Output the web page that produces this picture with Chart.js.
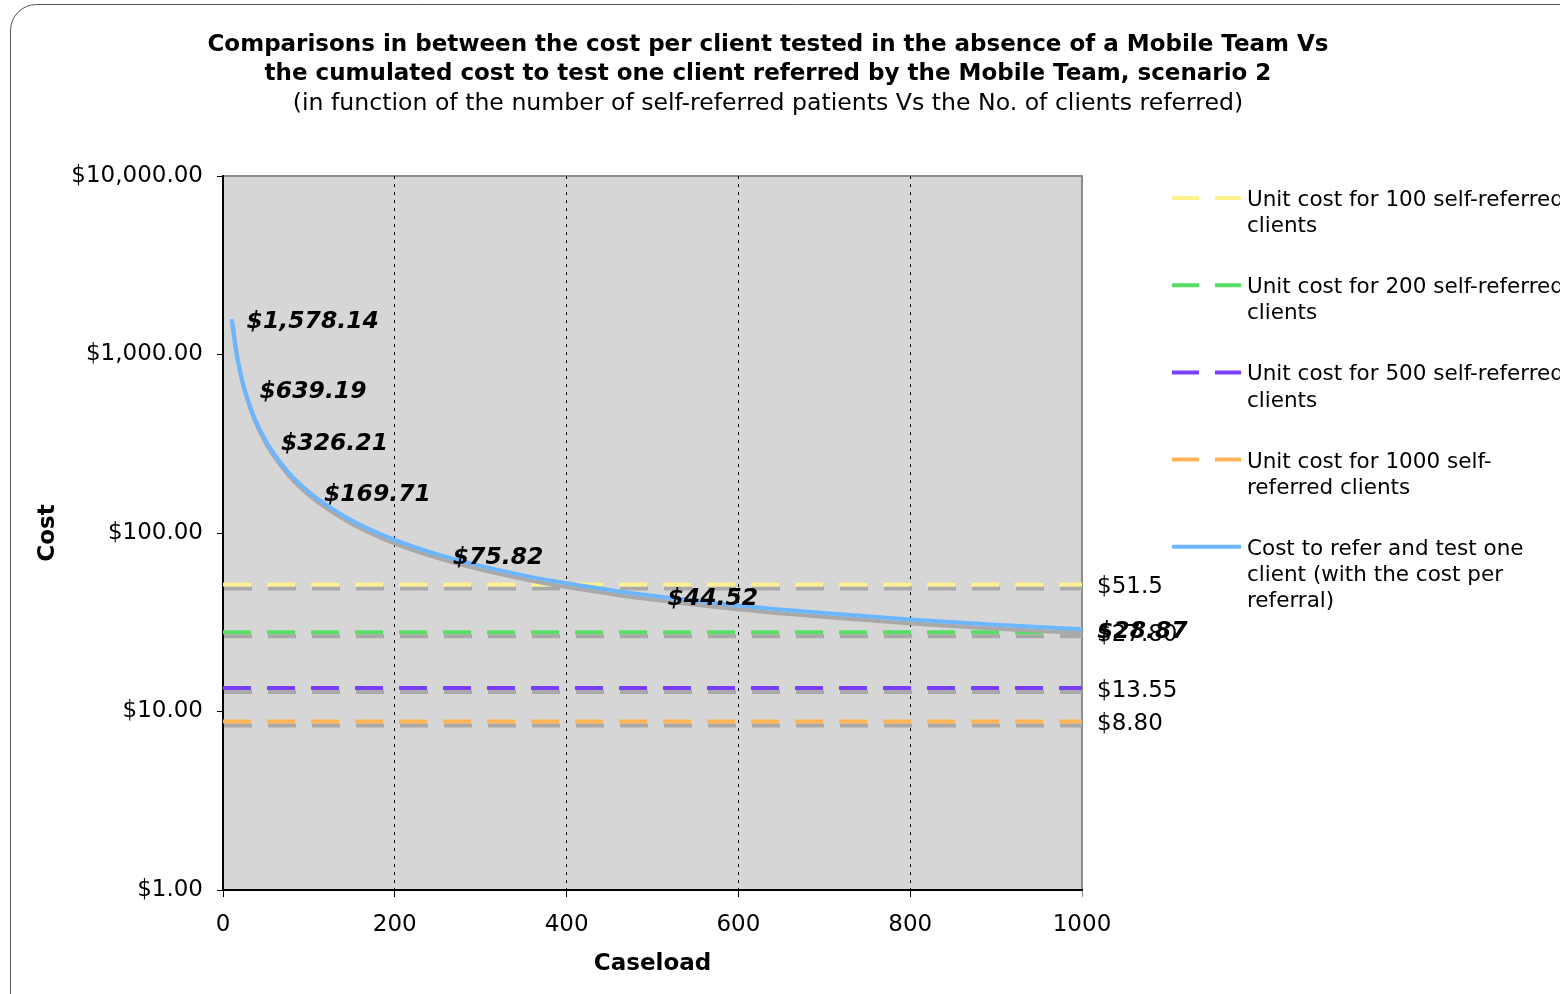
<!DOCTYPE html>
<html>
<head>
<meta charset="utf-8">
<script src="https://cdn.jsdelivr.net/npm/chart.js@4.4.1/dist/chart.umd.min.js"></script>
<style>
  html, body { margin: 0; padding: 0; background: #fff; overflow: hidden; }
  #wrap { width: 1560px; height: 994px; }
</style>
</head>
<body>
<div id="wrap"><canvas id="myChart" width="1560" height="994"></canvas></div>
<script>
// data
const caseload = [10, 15, 20, 25, 35, 50, 75, 100, 150, 200, 250, 300, 350, 400, 450, 500, 600, 700, 800, 900, 1000];
const referCost = [1578.14, 1056, 795, 639.19, 460, 326.21, 222, 169.71, 117.5, 91.5, 75.82, 65.4, 57.9, 52.3, 48.0, 44.52, 39.3, 35.6, 32.8, 30.6, 28.87];
const labelledCaseloads = [10, 25, 50, 100, 250, 500, 1000];

const selfReferred = [100, 200, 500, 1000];
const unitCosts = [51.5, 27.80, 13.55, 8.80];
const unitCostLabels = ['$51.5', '$27.80', '$13.55', '$8.80'];
const lineRange = [0, 1000];

const xTicks = [0, 200, 400, 600, 800, 1000];
const yTicks = [1, 10, 100, 1000, 10000];

const seriesNames = [
  'Unit cost for 100 self-referred\nclients',
  'Unit cost for 200 self-referred\nclients',
  'Unit cost for 500 self-referred\nclients',
  'Unit cost for 1000 self-\nreferred clients',
  'Cost to refer and test one\nclient (with the cost per\nreferral)'
];
const titleLines = [
  'Comparisons in between the cost per client tested in the absence of a Mobile Team Vs',
  'the cumulated cost to test one client referred by the Mobile Team, scenario 2'
];
const subTitle = '(in function of the number of self-referred patients Vs the No. of clients referred)';

const lineColors = ['#fff28f', '#55dd66', '#7b3fff', '#ffb357'];
const curveColor = '#6cb6ff';
const FONT = 'Verdana, "DejaVu Sans", sans-serif';
const FS = 23;

function money(v) {
  return '$' + v.toLocaleString('en-US', {minimumFractionDigits: 2, maximumFractionDigits: 2});
}

const datasets = [];
unitCosts.forEach(function (c, i) {
  datasets.push({
    label: seriesNames[i],
    data: lineRange.map(x => ({x: x, y: c})),
    borderColor: lineColors[i],
    borderWidth: 4,
    borderDash: [28, 16],
    pointRadius: 0,
    order: 1,
    endLabel: unitCostLabels[i]
  });
});
datasets.push({
  label: seriesNames[4],
  data: caseload.map((x, i) => ({x: x, y: referCost[i]})),
  borderColor: curveColor,
  borderWidth: 4,
  pointRadius: 0,
  cubicInterpolationMode: 'monotone',
  order: 0,
  curve: true
});

// background, border, shadows, labels, legend, title
const decor = {
  id: 'decor',
  beforeDraw(chart) {
    const ctx = chart.ctx, a = chart.chartArea;
    ctx.save();
    ctx.fillStyle = '#fff';
    ctx.fillRect(0, 0, chart.width, chart.height);
    ctx.strokeStyle = '#555';
    ctx.lineWidth = 1;
    ctx.beginPath();
    ctx.roundRect(10.5, 4.5, 1700, 1200, 26);
    ctx.stroke();
    ctx.fillStyle = '#d6d6d6';
    ctx.fillRect(a.left, a.top, a.right - a.left, a.bottom - a.top);
    ctx.fillStyle = '#8c8c8c';
    ctx.fillRect(a.left, a.top - 1, a.right - a.left + 1, 2);
    ctx.fillRect(a.right - 1, a.top, 2, a.bottom - a.top);
    ctx.restore();
  },
  beforeDatasetDraw(chart) {
    const ctx = chart.ctx;
    ctx.save();
    ctx.shadowColor = '#a9a9a9';
    ctx.shadowOffsetX = 1;
    ctx.shadowOffsetY = 4;
    ctx.shadowBlur = 0;
  },
  afterDatasetDraw(chart) {
    chart.ctx.restore();
  },
  afterDatasetsDraw(chart) {
    const ctx = chart.ctx;
    ctx.save();
    ctx.textBaseline = 'middle';
    ctx.textAlign = 'left';
    ctx.fillStyle = '#000';
    chart.data.datasets.forEach(function (ds, di) {
      const meta = chart.getDatasetMeta(di);
      if (ds.curve) {
        ctx.font = 'italic bold 23.5px ' + FONT;
        ds.data.forEach(function (p, i) {
          if (labelledCaseloads.indexOf(p.x) < 0) return;
          const pt = meta.data[i];
          ctx.fillText(money(p.y), pt.x + 15, pt.y + 3);
        });
      } else {
        ctx.font = FS + 'px ' + FONT;
        const pt = meta.data[meta.data.length - 1];
        ctx.fillText(ds.endLabel, pt.x + 15, pt.y + 3);
      }
    });
    ctx.restore();
  },
  afterDraw(chart) {
    const ctx = chart.ctx;
    ctx.save();
    ctx.fillStyle = '#000';
    ctx.textAlign = 'center';
    ctx.textBaseline = 'middle';
    ctx.font = 'bold ' + FS + 'px ' + FONT;
    ctx.fillText(titleLines[0], 768, 45.5);
    ctx.fillText(titleLines[1], 768, 74.5);
    ctx.font = '23.6px ' + FONT;
    ctx.fillText(subTitle, 768, 103.5);

    // legend
    ctx.textAlign = 'left';
    ctx.font = '21.5px ' + FONT;
    chart.data.datasets.forEach(function (ds, i) {
      const y = 198 + i * 87.2;
      ctx.strokeStyle = ds.borderColor;
      ctx.lineWidth = 4;
      ctx.beginPath();
      if (ds.curve) {
        ctx.moveTo(1172, y); ctx.lineTo(1241, y);
      } else {
        ctx.moveTo(1172, y); ctx.lineTo(1199, y);
        ctx.moveTo(1215, y); ctx.lineTo(1241, y);
      }
      ctx.stroke();
      ds.label.split('\n').forEach(function (line, k) {
        ctx.fillText(line, 1247, y + 2.5 + k * 26.2);
      });
    });
    ctx.restore();
  }
};

const ctx = document.getElementById('myChart').getContext('2d');
new Chart(ctx, {
  type: 'line',
  data: { datasets: datasets },
  plugins: [decor],
  options: {
    responsive: false,
    animation: false,
    layout: { padding: { top: 176, right: 478, left: 0, bottom: 0 } },
    plugins: {
      legend: { display: false },
      title: { display: false },
      tooltip: { enabled: false }
    },
    scales: {
      x: {
        type: 'linear',
        min: 0,
        max: 1000,
        afterBuildTicks: function (scale) { scale.ticks = xTicks.map(v => ({value: v})); },
        afterFit: function (scale) { scale.height = 104; },
        ticks: {
          color: '#000',
          font: { family: FONT, size: FS },
          padding: 14,
          maxRotation: 0,
          callback: function (value) { return String(value); }
        },
        grid: {
          color: function (c) {
            if (c.tick && c.tick.value === 0) return 'rgba(0,0,0,0)';
            if (c.tick && c.tick.value === 1000) return '#8c8c8c';
            return '#000';
          },
          lineWidth: 1,
          tickColor: function (c) { return (c.tick && c.tick.value === 1000) ? '#8c8c8c' : '#000'; },
          tickLength: 7,
          tickBorderDash: [],
          drawOnChartArea: true
        },
        border: { display: true, color: '#000', width: 2, dash: [3, 5] },
        title: {
          display: true,
          text: 'Caseload',
          color: '#000',
          font: { family: FONT, size: FS, weight: 'bold' },
          padding: { top: 0, bottom: 16 }
        }
      },
      y: {
        type: 'logarithmic',
        min: 1,
        max: 10000,
        afterBuildTicks: function (scale) { scale.ticks = yTicks.map(v => ({value: v})); },
        afterFit: function (scale) { scale.width = 223; },
        ticks: {
          color: '#000',
          font: { family: FONT, size: FS },
          padding: 14,
          callback: function (value) { return money(value); }
        },
        grid: {
          color: 'rgba(0,0,0,0)',
          tickColor: '#000',
          tickLength: 6
        },
        border: { display: true, color: '#000', width: 2 },
        title: {
          display: true,
          text: 'Cost',
          color: '#000',
          font: { family: FONT, size: FS, weight: 'bold' },
          padding: { top: 34, bottom: 0 }
        }
      }
    }
  }
});
</script>
</body>
</html>
